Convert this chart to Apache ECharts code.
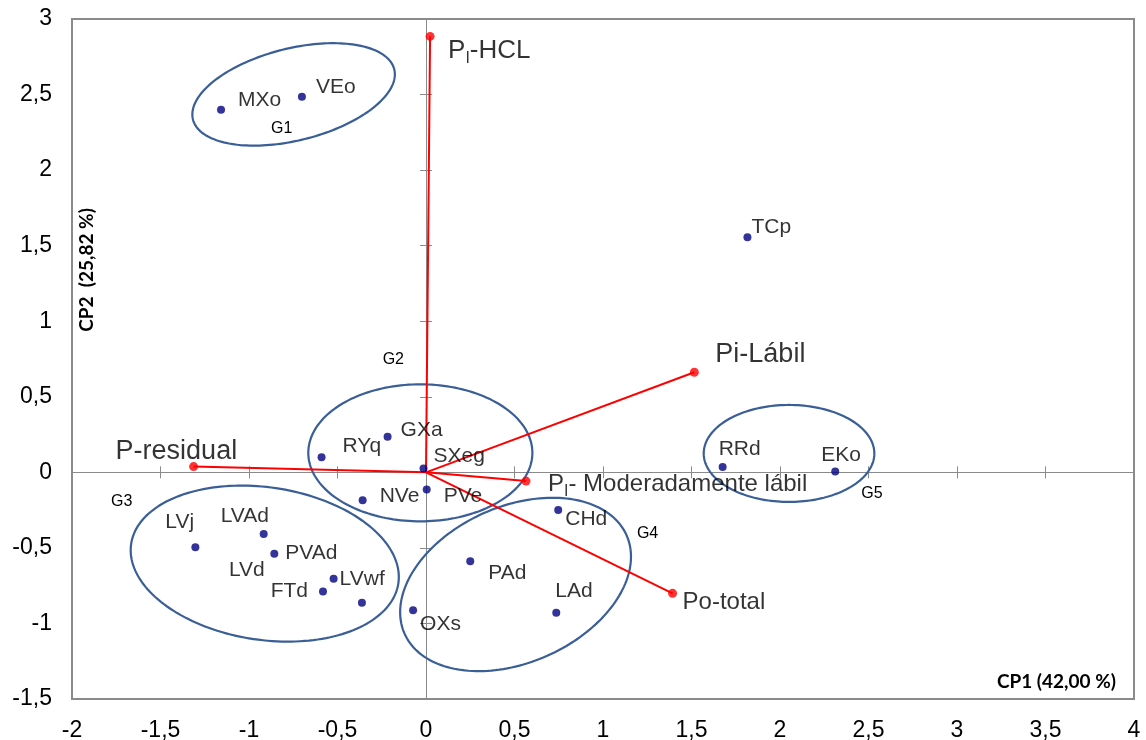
<!DOCTYPE html>
<html>
<head>
<meta charset="utf-8">
<script src="https://cdn.jsdelivr.net/npm/echarts@6/dist/echarts.min.js"></script>
<style>
  html, body { margin: 0; padding: 0; background: #ffffff; }
  #chart { width: 1146px; height: 740px; }
</style>
</head>
<body>
<div id="chart"></div>
<script>
// Sample scores on the first two principal components
const sampleNames = ['MXo', 'VEo', 'TCp', 'RYq', 'GXa', 'SXeg', 'NVe', 'PVe', 'RRd', 'EKo',
                     'LVj', 'LVAd', 'PVAd', 'LVd', 'FTd', 'LVwf', 'OXs', 'PAd', 'CHd', 'LAd'];
const sampleCP1 = [-1.158, -0.701, 1.816, -0.590, -0.217, -0.014, -0.358, 0.004, 1.676, 2.312,
                   -1.303, -0.917, -0.857, -0.362, -0.582, -0.522, -0.073, 0.250, 0.747, 0.736];
const sampleCP2 = [2.399, 2.486, 1.556, 0.100, 0.236, 0.026, -0.185, -0.113, 0.035, 0.005,
                   -0.495, -0.408, -0.539, -0.863, -0.788, -0.704, -0.913, -0.589, -0.250, -0.929];

// Loadings of the phosphorus fractions (tips of the vectors from the origin)
const fractionNames = ['P_I-HCL', 'Pi-Lábil', 'P_I- Moderadamente lábil', 'Po-total', 'P-residual'];
const fractionCP1 = [0.023, 1.516, 0.565, 1.393, -1.313];
const fractionCP2 = [2.885, 0.662, -0.058, -0.801, 0.038];

// Group outlines: centre, semi-axes (in CP1 units) and tilt (degrees)
const groupNames = ['G1', 'G2', 'G3', 'G4', 'G5'];
const groupCP1 = [-0.748, -0.032, -0.911, 0.506, 2.051];
const groupCP2 = [2.501, 0.129, -0.604, -0.742, 0.125];
const groupMajor = [0.586, 0.633, 0.763, 0.686, 0.482];
const groupMinor = [0.260, 0.387, 0.431, 0.441, 0.274];
const groupTilt = [14, 0, -8.4, 23.9, 0];

// Axis ranges
const cp1Range = { min: -2, max: 4, step: 0.5 };
const cp2Range = { min: -1.5, max: 3, step: 0.5 };

// Label placement (pixel offsets from the marker: [dx, dy, align])
const sampleLabelPlacement = {
  MXo: [17, -10, 'left'], VEo: [14, -9, 'left'], TCp: [4, -10, 'left'],
  RYq: [21, -11, 'left'], GXa: [13, -6, 'left'], SXeg: [10, -12, 'left'],
  NVe: [17, -4, 'left'], PVe: [17, 7, 'left'], RRd: [-4, -18, 'left'],
  EKo: [-14, -16, 'left'], LVj: [-30, -25, 'left'], LVAd: [-43, -18, 'left'],
  PVAd: [11, -1, 'left'], LVd: [-133, -33, 'left'], FTd: [-15, 0, 'right'],
  LVwf: [6, 0, 'left'], OXs: [7, 14, 'left'], PAd: [18, 12, 'left'],
  CHd: [7, 9, 'left'], LAd: [-1, -22, 'left']
};
// [dx, dy, font size]
const fractionLabelPlacement = {
  'P_I-HCL': [18, 14, 26], 'Pi-Lábil': [21, -18, 27], 'P_I- Moderadamente lábil': [22, 3, 24],
  'Po-total': [10, 9, 24], 'P-residual': [-78, -15, 27]
};
const groupLabelPlacement = {
  G1: [-12, 34], G2: [-27, -93], G3: [-143, -62], G4: [132, -51], G5: [83, 40]
};

const FONT = '"Liberation Sans", Arial, sans-serif';
const AXIS_GREY = '#8a8a8a';
const decimalComma = v => String(v).replace('.', ',');

function valueAxis(range, extra) {
  return Object.assign({
    type: 'value', min: range.min, max: range.max, interval: range.step,
    splitLine: { show: false }
  }, extra);
}

// label axes sit on the frame; the other two draw the zero line with crossing ticks
function axisSet(range, side) {
  return [
    valueAxis(range, {
      position: side,
      axisLine: { show: false, onZero: false },
      axisTick: { show: false },
      axisLabel: {
        show: true, formatter: decimalComma, color: '#000', fontFamily: FONT,
        fontSize: 23, margin: side === 'bottom' ? 20 : 20,
        showMinLabel: true, showMaxLabel: true
      }
    }),
    valueAxis(range, {
      position: side,
      axisLine: { show: true, onZero: true, onZeroAxisIndex: 0, lineStyle: { color: AXIS_GREY, width: 1 } },
      axisTick: { show: true, inside: false, length: 6, lineStyle: { color: AXIS_GREY, width: 1 } },
      axisLabel: { show: false }
    }),
    valueAxis(range, {
      position: side,
      axisLine: { show: true, onZero: true, onZeroAxisIndex: 0, lineStyle: { color: AXIS_GREY, width: 1 } },
      axisTick: { show: true, inside: true, length: 6, lineStyle: { color: AXIS_GREY, width: 1 } },
      axisLabel: { show: false }
    })
  ];
}

function fractionRich(name) {
  const size = fractionLabelPlacement[name][2];
  const m = 'm' + size;
  if (name.indexOf('P_I') === 0) {
    return '{' + m + '|P}{s|I}{' + m + '|' + name.slice(3) + '}';
  }
  return '{' + m + '|' + name + '}';
}

const groupSeries = {
  type: 'custom',
  coordinateSystem: 'cartesian2d',
  xAxisIndex: 0, yAxisIndex: 0,
  silent: true,
  z: 1,
  data: groupNames.map((g, i) => [groupCP1[i], groupCP2[i], groupMajor[i], groupMinor[i], groupTilt[i]]),
  renderItem(params, api) {
    const c = api.coord([api.value(0), api.value(1)]);
    const unit = api.size([1, 0])[0];
    const a = api.value(2) * unit;
    const b = api.value(3) * unit;
    const th = -api.value(4) * Math.PI / 180;
    const pts = [];
    const n = 180;
    for (let k = 0; k < n; k++) {
      const t = k / n * 2 * Math.PI;
      const ct = Math.cos(t), st = Math.sin(t);
      pts.push([
        c[0] + a * ct * Math.cos(th) - b * st * Math.sin(th),
        c[1] + a * ct * Math.sin(th) + b * st * Math.cos(th)
      ]);
    }
    const name = groupNames[params.dataIndex];
    const off = groupLabelPlacement[name];
    return {
      type: 'group',
      children: [
        { type: 'polygon', shape: { points: pts }, style: { fill: 'transparent', stroke: '#3a5e96', lineWidth: 2.2 } },
        { type: 'text', x: c[0] + off[0], y: c[1] + off[1],
          style: { text: name, fill: '#000', font: '16px ' + FONT, align: 'center', verticalAlign: 'middle' } }
      ]
    };
  }
};

const vectorSeries = fractionNames.map((n, i) => ({
  type: 'line',
  xAxisIndex: 0, yAxisIndex: 0,
  data: [[0, 0], [fractionCP1[i], fractionCP2[i]]],
  symbol: 'none',
  silent: true,
  z: 3,
  lineStyle: { color: '#ff0000', width: 2 }
}));

const richText = {
  s: { fontFamily: FONT, fontSize: 16, color: '#000', lineHeight: 16, verticalAlign: 'bottom' }
};
[24, 26, 27].forEach(sz => {
  richText['m' + sz] = { fontFamily: FONT, fontSize: sz, color: '#000', lineHeight: sz + 6 };
});

const fractionTips = {
  type: 'scatter',
  xAxisIndex: 0, yAxisIndex: 0,
  symbol: 'circle', symbolSize: 9,
  z: 4,
  itemStyle: { color: '#ff0000' },
  data: fractionNames.map((n, i) => {
    const p = fractionLabelPlacement[n];
    return {
      name: n,
      value: [fractionCP1[i], fractionCP2[i]],
      label: { offset: [p[0], p[1]] }
    };
  }),
  label: {
    show: true, position: 'inside', align: 'left', verticalAlign: 'middle',
    formatter: params => fractionRich(params.name),
    rich: richText
  }
};

const sampleSeries = {
  type: 'scatter',
  xAxisIndex: 0, yAxisIndex: 0,
  symbol: 'circle', symbolSize: 8,
  z: 5,
  itemStyle: { color: '#000080' },
  data: sampleNames.map((n, i) => {
    const p = sampleLabelPlacement[n];
    return {
      name: n,
      value: [sampleCP1[i], sampleCP2[i]],
      label: { offset: [p[0], p[1]], align: p[2] }
    };
  }),
  label: {
    show: true, position: 'inside', align: 'left', verticalAlign: 'middle',
    formatter: '{b}', color: '#000', fontFamily: FONT, fontSize: 21
  }
};

const chart = echarts.init(document.getElementById('chart'), null, { renderer: 'canvas' });
chart.setOption({
  animation: false,
  backgroundColor: '#ffffff',
  grid: {
    left: 72, top: 19, width: 1062, height: 680,
    show: true, borderColor: AXIS_GREY, borderWidth: 2,
    outerBoundsMode: 'none'
  },
  xAxis: axisSet(cp1Range, 'bottom'),
  yAxis: axisSet(cp2Range, 'left'),
  graphic: [
    { type: 'text', x: 1116, y: 682, silent: true,
      style: { text: 'CP1 (42,00 %)', font: 'bold 19px Lato, sans-serif', fill: '#000', align: 'right', verticalAlign: 'middle' } },
    { type: 'text', x: 87, y: 270, rotation: Math.PI / 2, silent: true,
      style: { text: 'CP2  (25,82 %)', font: 'bold 19px Lato, sans-serif', fill: '#000', align: 'center', verticalAlign: 'middle' } }
  ],
  series: [groupSeries].concat(vectorSeries, [fractionTips, sampleSeries])
});
</script>
</body>
</html>
